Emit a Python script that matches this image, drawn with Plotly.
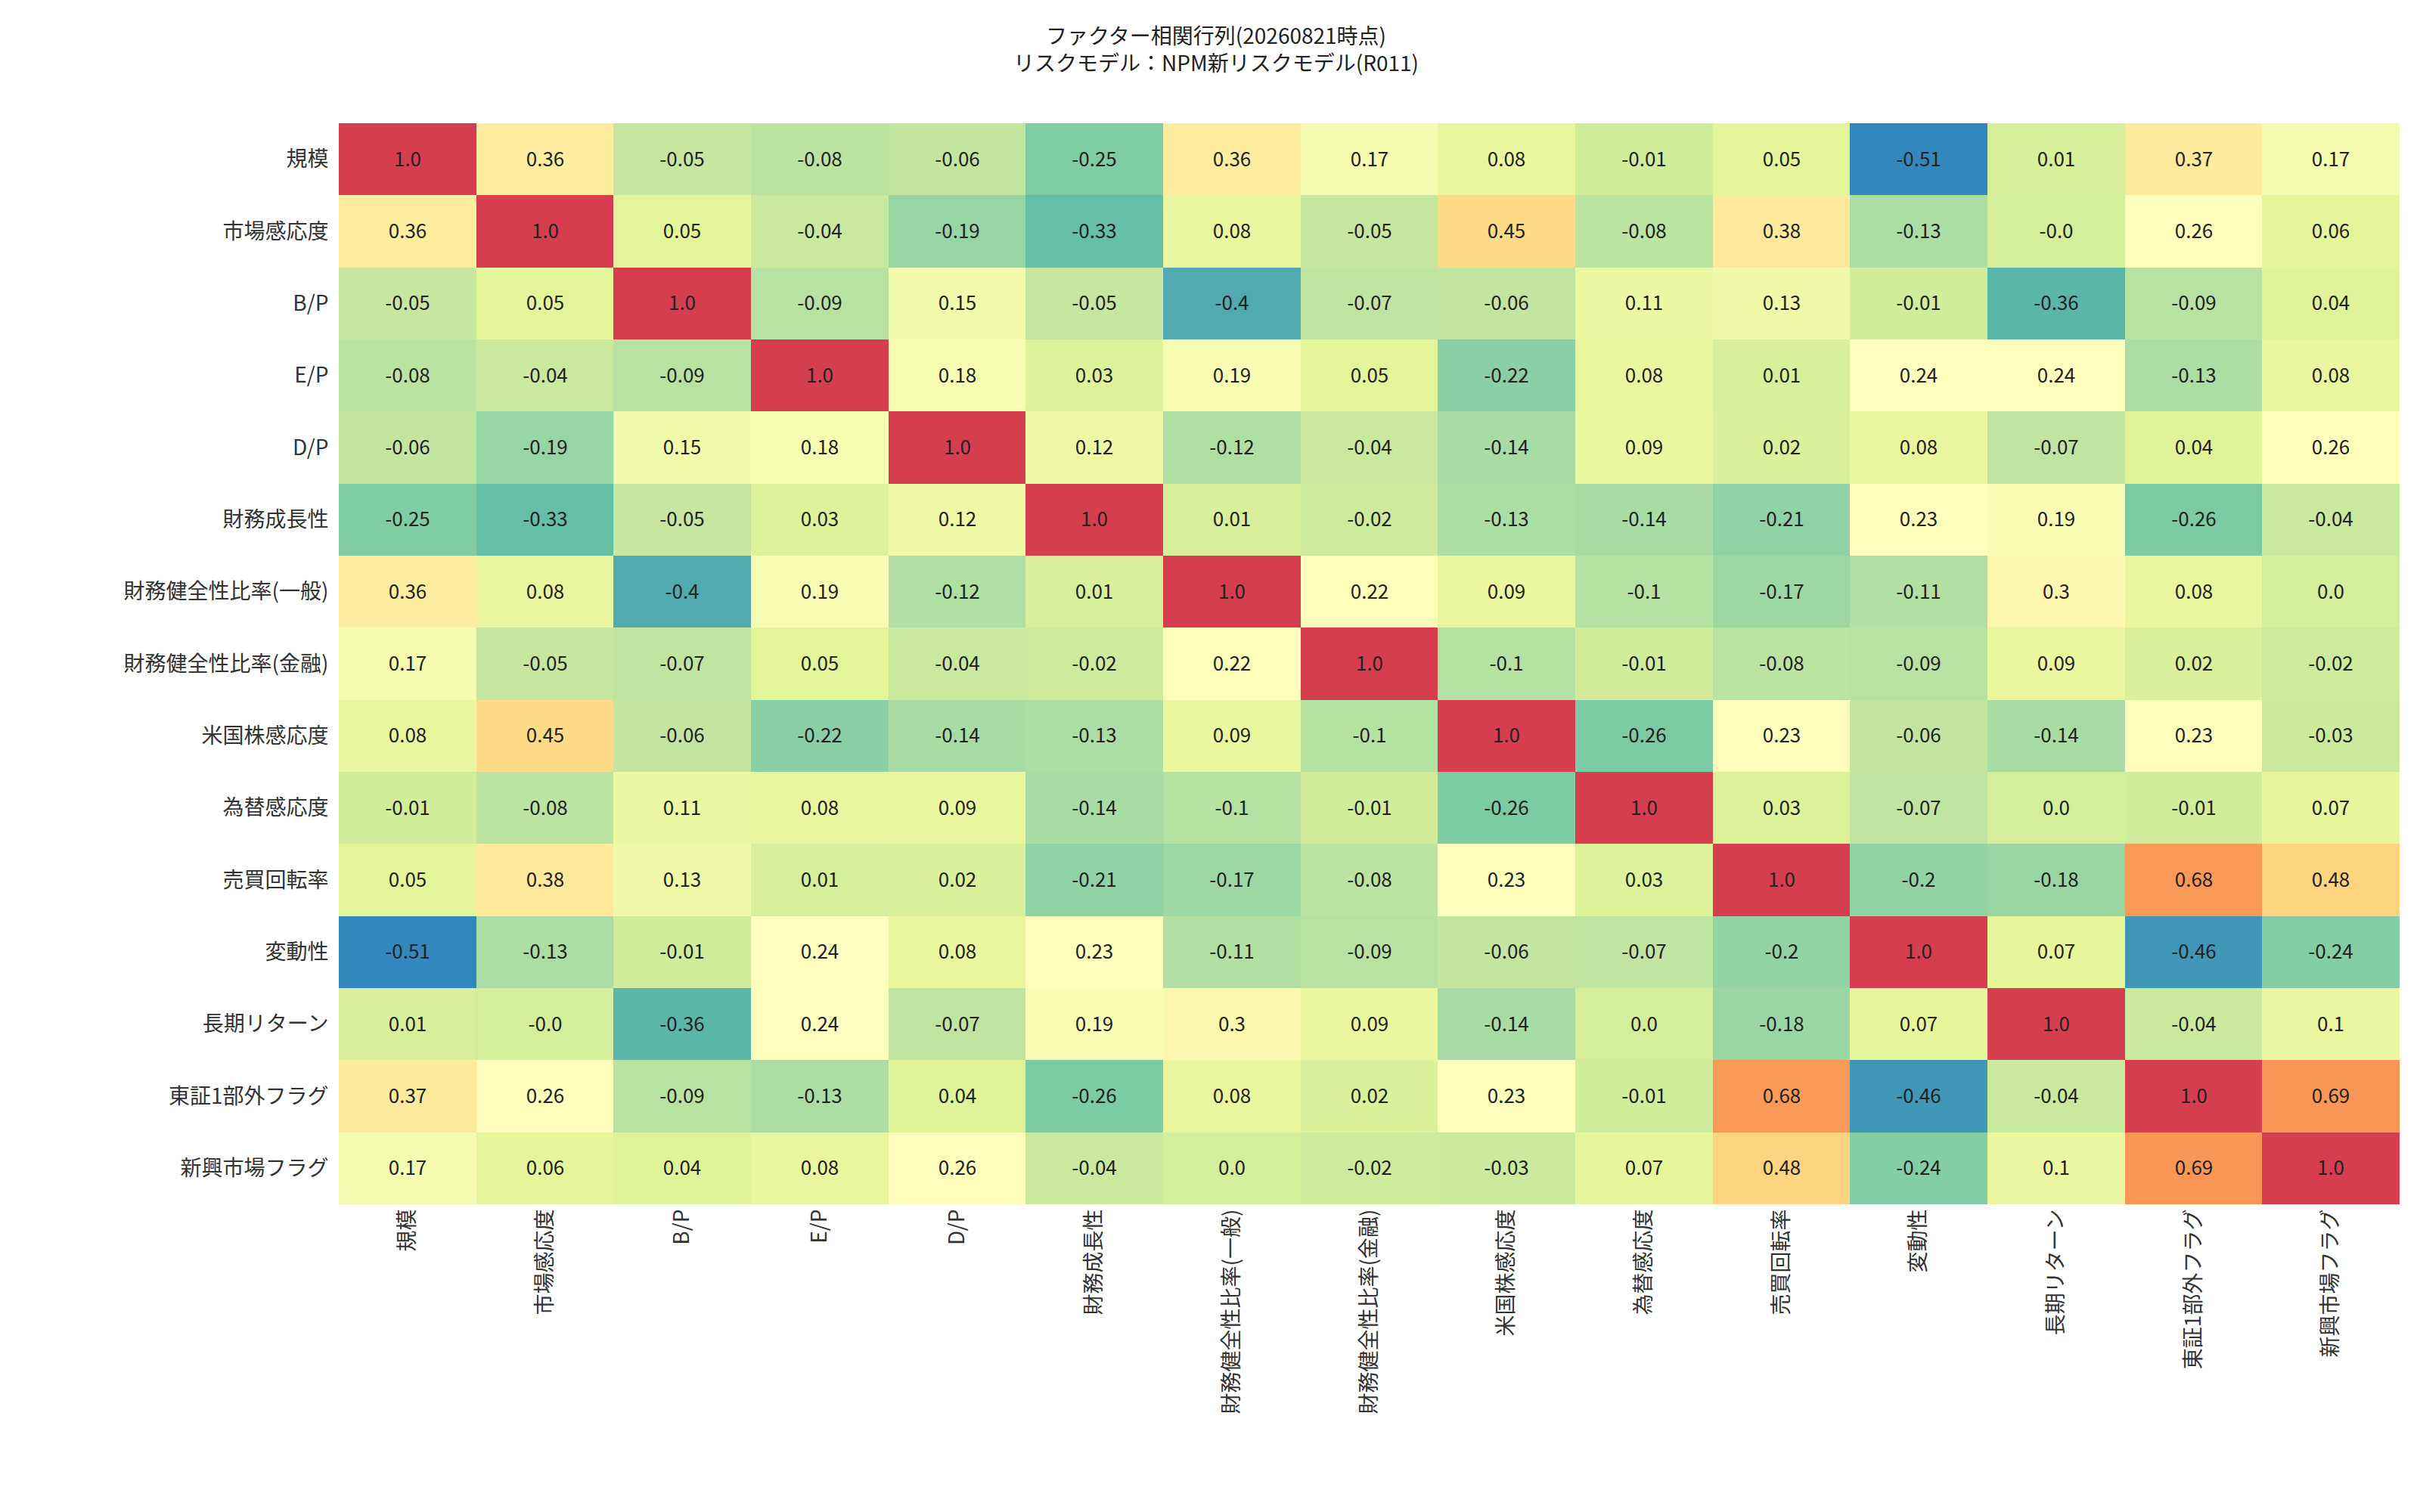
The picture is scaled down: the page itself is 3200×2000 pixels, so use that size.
"""
Plot factor correlation matrix heatmap.
"""
import plotly.graph_objects as go

# Factor names
FACTORS = ['規模', '市場感応度', 'B/P', 'E/P', 'D/P', '財務成長性', '財務健全性比率(一般)',
           '財務健全性比率(金融)', '米国株感応度', '為替感応度', '売買回転率', '変動性',
           '長期リターン', '東証1部外フラグ', '新興市場フラグ']

# Correlation matrix
CORR = [
    [1.0, 0.36, -0.05, -0.08, -0.06, -0.25, 0.36, 0.17, 0.08, -0.01, 0.05, -0.51, 0.01, 0.37, 0.17],
    [0.36, 1.0, 0.05, -0.04, -0.19, -0.33, 0.08, -0.05, 0.45, -0.08, 0.38, -0.13, -0.0, 0.26, 0.06],
    [-0.05, 0.05, 1.0, -0.09, 0.15, -0.05, -0.4, -0.07, -0.06, 0.11, 0.13, -0.01, -0.36, -0.09, 0.04],
    [-0.08, -0.04, -0.09, 1.0, 0.18, 0.03, 0.19, 0.05, -0.22, 0.08, 0.01, 0.24, 0.24, -0.13, 0.08],
    [-0.06, -0.19, 0.15, 0.18, 1.0, 0.12, -0.12, -0.04, -0.14, 0.09, 0.02, 0.08, -0.07, 0.04, 0.26],
    [-0.25, -0.33, -0.05, 0.03, 0.12, 1.0, 0.01, -0.02, -0.13, -0.14, -0.21, 0.23, 0.19, -0.26, -0.04],
    [0.36, 0.08, -0.4, 0.19, -0.12, 0.01, 1.0, 0.22, 0.09, -0.1, -0.17, -0.11, 0.3, 0.08, 0.0],
    [0.17, -0.05, -0.07, 0.05, -0.04, -0.02, 0.22, 1.0, -0.1, -0.01, -0.08, -0.09, 0.09, 0.02, -0.02],
    [0.08, 0.45, -0.06, -0.22, -0.14, -0.13, 0.09, -0.1, 1.0, -0.26, 0.23, -0.06, -0.14, 0.23, -0.03],
    [-0.01, -0.08, 0.11, 0.08, 0.09, -0.14, -0.1, -0.01, -0.26, 1.0, 0.03, -0.07, 0.0, -0.01, 0.07],
    [0.05, 0.38, 0.13, 0.01, 0.02, -0.21, -0.17, -0.08, 0.23, 0.03, 1.0, -0.2, -0.18, 0.68, 0.48],
    [-0.51, -0.13, -0.01, 0.24, 0.08, 0.23, -0.11, -0.09, -0.06, -0.07, -0.2, 1.0, 0.07, -0.46, -0.24],
    [0.01, -0.0, -0.36, 0.24, -0.07, 0.19, 0.3, 0.09, -0.14, 0.0, -0.18, 0.07, 1.0, -0.04, 0.1],
    [0.37, 0.26, -0.09, -0.13, 0.04, -0.26, 0.08, 0.02, 0.23, -0.01, 0.68, -0.46, -0.04, 1.0, 0.69],
    [0.17, 0.06, 0.04, 0.08, 0.26, -0.04, 0.0, -0.02, -0.03, 0.07, 0.48, -0.24, 0.1, 0.69, 1.0],
]

# Colors (Spectral, reversed, without the darkest ends)
SPECTRAL = ['#3288bd', '#66c2a5', '#abdda4', '#e6f598', '#ffffbf',
            '#fee08b', '#fdae61', '#f46d43', '#d53e4f']
COLORSCALE = [[i / (len(SPECTRAL) - 1), c] for i, c in enumerate(SPECTRAL)]


def plot_corr_heatmap(corr, labels, title):
    """Heatmap: factor × factor correlation with values in each cell."""
    text = [[str(v) for v in row] for row in corr]

    fig = go.Figure(data=go.Heatmap(
        z=corr, x=labels, y=labels, colorscale=COLORSCALE,
        text=text, texttemplate='%{text}', textfont=dict(size=26, color='#222'),
        showscale=False,
    ))
    fig.update_layout(
        title=dict(text=title, x=0.5, xanchor='center', y=0.975, font=dict(size=28, color='#222')),
        template='plotly_white', width=3200, height=2000,
        font=dict(family='Noto Sans CJK JP', size=28, color='#333'),
        xaxis=dict(tickangle=-90, showgrid=False, ticks=''),
        yaxis=dict(autorange='reversed', showgrid=False, ticks='', ticksuffix='  '),
        plot_bgcolor='white',
        margin=dict(l=440, r=35, t=155, b=415),
    )
    fig.write_html('out.html')
    print("Saved: out.html")
    return fig


plot_corr_heatmap(CORR, FACTORS,
                  'ファクター相関行列(20260821時点)<br>リスクモデル：NPM新リスクモデル(R011)')
